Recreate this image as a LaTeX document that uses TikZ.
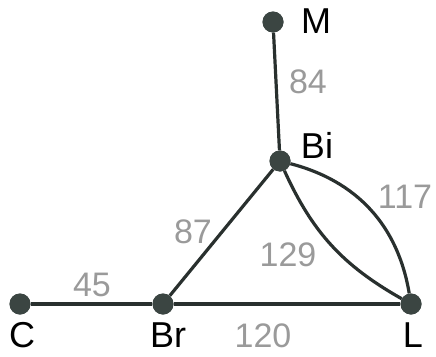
\documentclass[tikz,border=0pt]{standalone}
\usepackage{fontspec}
\setmainfont{Liberation Sans}
\usepackage{tikz}
\usetikzlibrary{positioning}
\definecolor{vertexgray}{HTML}{3B4542}
\definecolor{weightgray}{HTML}{9A9A9A}

\begin{document}
\begin{tikzpicture}[x=1pt, y=-1pt,
    vertex/.style={circle, fill=vertexgray, inner sep=0pt, minimum size=21pt},
    edge/.style={line width=3.2pt, vertexgray!70!black},
    city/.style={font=\fontsize{36}{40}\selectfont, inner sep=0pt},
    weight/.style={font=\fontsize{34}{38}\selectfont\color{weightgray}, inner sep=0pt}]
  \useasboundingbox (0,0) rectangle (436,356);

  % Ciudades
  \foreach \n/\x/\y in {M/273/22, Bi/280/161, C/20/304, Br/163/304, L/411/304}{
    \node[vertex] (\n) at (\x,\y) {};
  }
  \node[city] (tM) at (316,21) {M};
  \node[city] (tBi) at (317,145) {Bi};
  \node[city] (tC) at (22,335) {C};
  \node[city] (tBr) at (168,335) {Br};
  \node[city] (tL) at (413,335) {L};

  % Aristas
  \draw[edge] (M) -- (Bi);
  \draw[edge] (Bi) -- (Br);
  \draw[edge] (C) -- (Br);
  \draw[edge] (Br) -- (L);
  \draw[edge] (Bi) to[bend right=18] (L);
  \draw[edge] (Bi) to[bend left=33] (L);
  \foreach \n in {M, Bi, C, Br, L}{
    \fill[vertexgray] (\n) circle (10.5pt);
  }

  % Distancias
  \node[weight] (w84) at (308,82) {84};
  \node[weight] (w87) at (193,232) {87};
  \node[weight] (w129) at (288,255) {129};
  \node[weight] (w117) at (405,197) {117};
  \node[weight] (w45) at (92,285) {45};
  \node[weight] (w120) at (263,336) {120};
\end{tikzpicture}
\end{document}
